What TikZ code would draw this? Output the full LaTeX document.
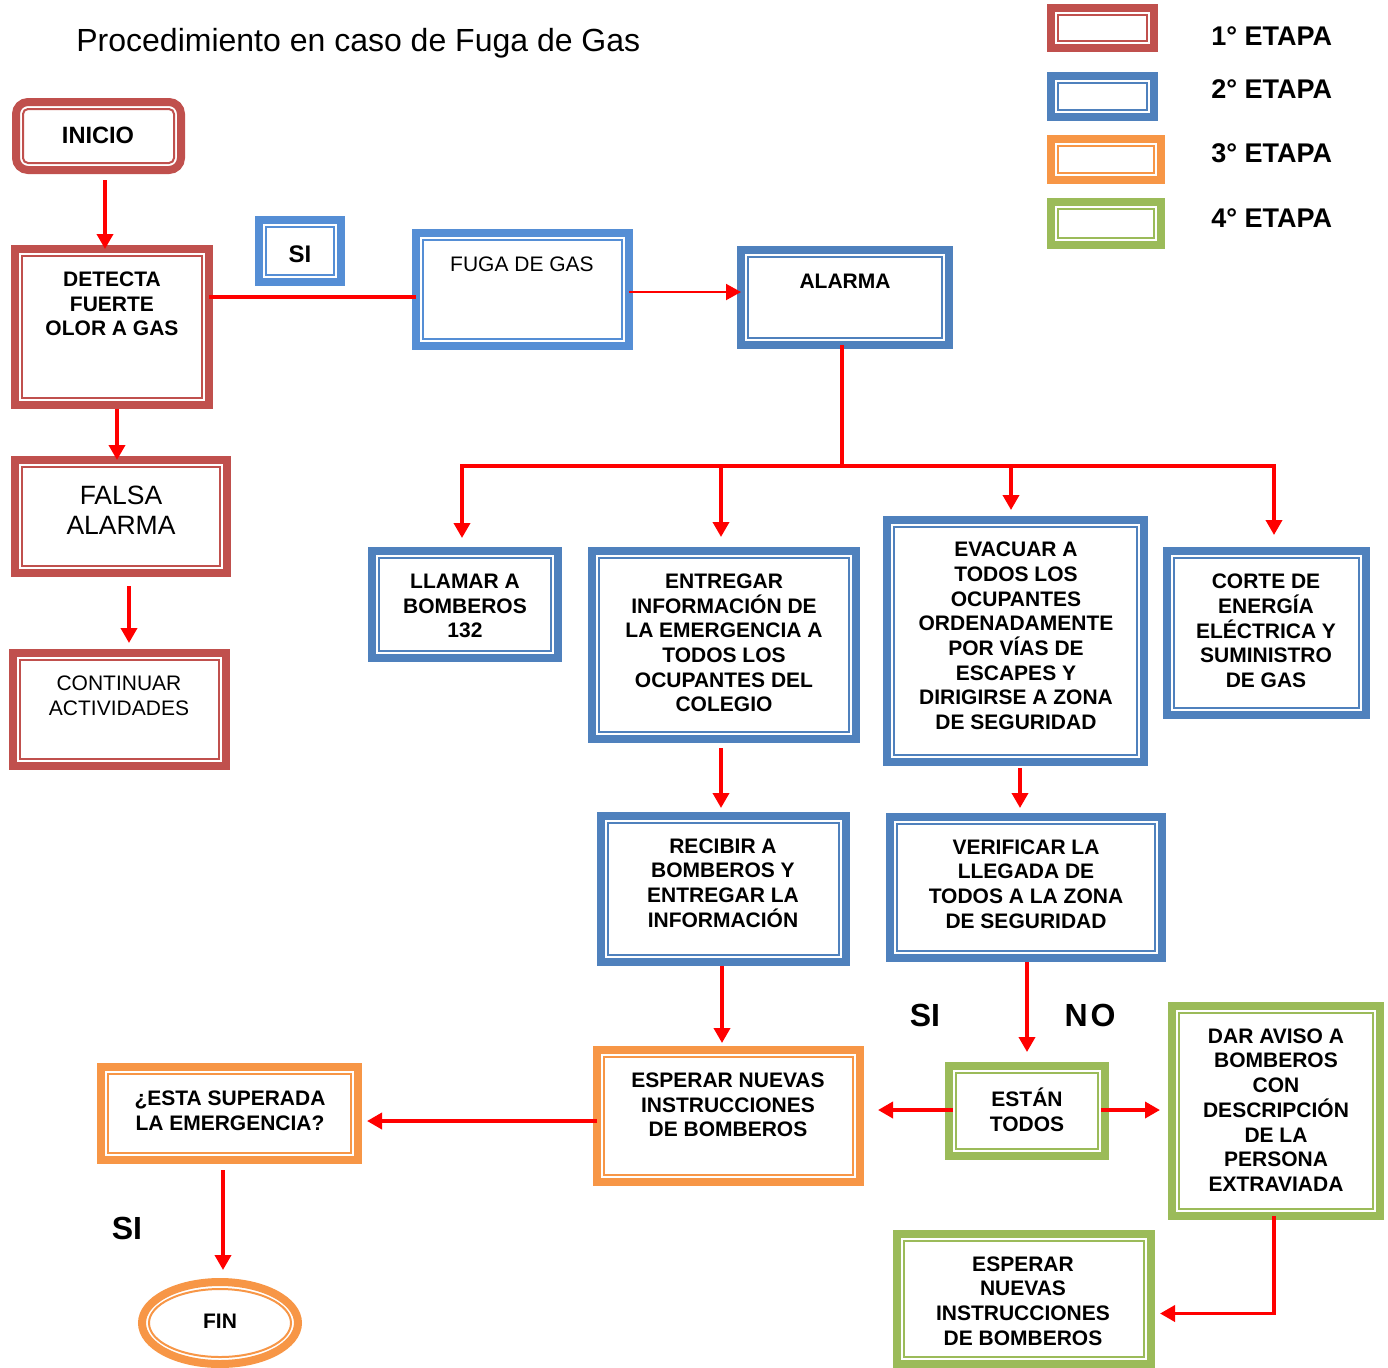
\documentclass[tikz,border=0pt]{standalone}
\usepackage{fontspec}
\setmainfont{Liberation Sans}
\usetikzlibrary{arrows.meta,shapes.geometric}

\definecolor{stred}{HTML}{C0504D}
\definecolor{stblue}{HTML}{4F81BD}
\definecolor{stbluelight}{HTML}{558ED5}
\definecolor{storange}{HTML}{F79646}
\definecolor{stgreen}{HTML}{9BBB59}
\definecolor{arrowred}{HTML}{FF0000}

\tikzset{
  stage/.style={draw=#1, line width=4pt, fill=white, inner sep=0pt, outer sep=0pt,
    path picture={\draw[#1, line width=1pt]
      ([shift={(3.5pt,-3.5pt)}]path picture bounding box.north west) rectangle
      ([shift={(-3.5pt,3.5pt)}]path picture bounding box.south east);}},
  stageround/.style={draw=#1, line width=4pt, fill=white, inner sep=0pt, outer sep=0pt,
    rounded corners=6pt,
    path picture={\draw[#1, line width=1pt, rounded corners=2.5pt]
      ([shift={(3.5pt,-3.5pt)}]path picture bounding box.north west) rectangle
      ([shift={(-3.5pt,3.5pt)}]path picture bounding box.south east);}},
  txt/.style={align=center, inner sep=0pt, font=\fontsize{10.5pt}{12.35pt}\selectfont\bfseries},
  plaintxt/.style={align=center, inner sep=0pt, font=\fontsize{10.5pt}{12.5pt}\selectfont},
  bigtxt/.style={inner sep=0pt, font=\fontsize{16pt}{16pt}\selectfont\bfseries},
  legtxt/.style={anchor=west, inner sep=0pt, font=\fontsize{13.5pt}{14pt}\selectfont\bfseries},
  arr/.style={draw=arrowred, line width=1.8pt, -{Triangle[length=7.5pt,width=8pt]}},
  link/.style={draw=arrowred, line width=1.8pt},
}

% box from corner (x1,y1) to corner (x2,y2), outer edges of the frame
\newcommand\boxat[7][stage]{%
  \node[#1=#3, minimum width={(#6-#4-8)*0.5pt}, minimum height={(#7-#5-8)*0.5pt}]
    (#2) at ({(#4+#6)/2},{(#5+#7)/2}) {};}

\begin{document}
\begin{tikzpicture}[x=0.5pt, y=-0.5pt]
\useasboundingbox (0,0) rectangle (1388,1367);

% title
\node[anchor=base west, inner sep=0pt, font=\fontsize{16pt}{19pt}\selectfont] (title)
  at (76,51) {Procedimiento en caso de Fuga de Gas};

% legend
\boxat{leg1}{stred}{1047}{4}{1158}{52}
\boxat{leg2}{stblue}{1047}{72}{1158}{121}
\boxat{leg3}{storange}{1047}{135}{1165}{184}
\boxat{leg4}{stgreen}{1047}{198}{1165}{249}
\node[legtxt] (leg1t) at (1211,36) {1° ETAPA};
\node[legtxt] (leg2t) at (1211,89) {2° ETAPA};
\node[legtxt] (leg3t) at (1211,153) {3° ETAPA};
\node[legtxt] (leg4t) at (1211,218) {4° ETAPA};

% stage 1
\boxat[stageround]{inicio}{stred}{12}{98}{185}{174}
\boxat{detecta}{stred}{11}{245}{213}{409}
\boxat{falsa}{stred}{11}{456}{231}{577}
\boxat{continuar}{stred}{9}{649}{230}{770}
\node[txt, font=\fontsize{11.8pt}{13pt}\selectfont\bfseries] (inicio-t) at (98,135) {INICIO};
\node[txt] (detecta-t) at (112,304) {DETECTA\\FUERTE\\OLOR A GAS};
\node[plaintxt, font=\fontsize{13.25pt}{15pt}\selectfont] (falsa-t) at (121,510) {FALSA\\ALARMA};
\node[plaintxt] (continuar-t) at (119,696) {CONTINUAR\\ACTIVIDADES};

% stage 2
\boxat{sibox}{stbluelight}{255}{216}{345}{286}
\boxat{fuga}{stbluelight}{412}{229}{633}{350}
\boxat{alarma}{stblue}{737}{246}{953}{349}
\boxat{llamar}{stblue}{368}{547}{562}{662}
\boxat{entregar}{stblue}{588}{547}{860}{743}
\boxat{evacuar}{stblue}{883}{516}{1148}{766}
\boxat{corte}{stblue}{1163}{547}{1370}{719}
\boxat{recibir}{stblue}{597}{812}{850}{966}
\boxat{verificar}{stblue}{886}{813}{1166}{962}
\node[txt, font=\fontsize{12pt}{13pt}\selectfont\bfseries] (sibox-t) at (300,254) {SI};
\node[plaintxt] (fuga-t) at (522,264) {FUGA DE GAS};
\node[txt] (alarma-t) at (845,281) {ALARMA};
\node[txt] (llamar-t) at (465,606) {LLAMAR A\\BOMBEROS\\132};
\node[txt] (entregar-t) at (724,643) {ENTREGAR\\INFORMACIÓN DE\\LA EMERGENCIA A\\TODOS LOS\\OCUPANTES DEL\\COLEGIO};
\node[txt] (evacuar-t) at (1016,636) {EVACUAR A\\TODOS LOS\\OCUPANTES\\ORDENADAMENTE\\POR VÍAS DE\\ESCAPES Y\\DIRIGIRSE A ZONA\\DE SEGURIDAD};
\node[txt] (corte-t) at (1266,631) {CORTE DE\\ENERGÍA\\ELÉCTRICA Y\\SUMINISTRO\\DE GAS};
\node[txt] (recibir-t) at (723,883) {RECIBIR A\\BOMBEROS Y\\ENTREGAR LA\\INFORMACIÓN};
\node[txt] (verificar-t) at (1026,884) {VERIFICAR LA\\LLEGADA DE\\TODOS A LA ZONA\\DE SEGURIDAD};

% stage 3
\boxat{esperar}{storange}{593}{1046}{864}{1186}
\boxat{superada}{storange}{97}{1063}{362}{1164}
\node[ellipse, draw=storange, line width=4pt, fill=white, inner sep=0pt,
  minimum width=78pt, minimum height=41pt] (fin) at (220,1323) {};
\draw[storange, line width=1pt] (fin.center) ellipse [x radius=35.5pt, y radius=17pt];
\node[txt] (esperar-t) at (728,1105) {ESPERAR NUEVAS\\INSTRUCCIONES\\DE BOMBEROS};
\node[txt] (superada-t) at (230,1111) {¿ESTA SUPERADA\\LA EMERGENCIA?};
\node[txt] (fin-t) at (220,1321) {FIN};

% stage 4
\boxat{estan}{stgreen}{945}{1062}{1109}{1160}
\boxat{aviso}{stgreen}{1168}{1002}{1384}{1220}
\boxat{esperarv}{stgreen}{893}{1230}{1155}{1368}
\node[txt] (estan-t) at (1027,1110) {ESTÁN\\TODOS};
\node[txt] (aviso-t) at (1276,1110) {DAR AVISO A\\BOMBEROS\\CON\\DESCRIPCIÓN\\DE LA\\PERSONA\\EXTRAVIADA};
\node[txt] (esperarv-t) at (1023,1301) {ESPERAR\\NUEVAS\\INSTRUCCIONES\\DE BOMBEROS};

% answer labels
\node[bigtxt] (si-a) at (925,1015) {SI};
\node[bigtxt] (no-a) at (1090,1015) {N\kern1.5pt O};
\node[bigtxt] (si-b) at (127,1228) {SI};

% connectors
\draw[arr] ([xshift=3.25pt,yshift=-5pt]inicio.south) -- ([xshift=-3.5pt]detecta.north);
\draw[arr] ([xshift=2.5pt,yshift=-2pt]detecta.south) -- ([xshift=-2pt]falsa.north);
\draw[arr, shorten >=5pt] ([xshift=4pt,yshift=-6.5pt]falsa.south) -- ([xshift=4.75pt]continuar.north);
\draw[link] ([yshift=15pt]detecta.east) -- ([yshift=-3.75pt]fuga.west);
\draw[arr, line width=1pt] ([yshift=-1.25pt]fuga.east) -- ([yshift=2.75pt]alarma.west);

\coordinate (bus) at (842,466);
\coordinate (b1) at (462,466);
\coordinate (b2) at (721,466);
\coordinate (b3) at (1011,466);
\coordinate (b4) at (1274,466);
\draw[link] ([xshift=-1.5pt]alarma.south) -- (bus);
\draw[link, line cap=rect] (b1) -- (b4);
\draw[arr, shorten >=6.5pt] (b1) -- ([xshift=-1.5pt]llamar.north);
\draw[arr, shorten >=7pt] (b2) -- ([xshift=-1.5pt]entregar.north);
\draw[arr, shorten >=5pt] (b3) -- ([xshift=-2.25pt]evacuar.north);
\draw[arr, shorten >=8pt] (b4) -- ([xshift=3.75pt]corte.north);

\draw[arr, shorten <=4.5pt, shorten >=4pt] ([xshift=-1.5pt]entregar.south) -- ([xshift=-1.25pt]recibir.north);
\draw[arr, shorten <=3pt, shorten >=4.5pt] ([xshift=2.25pt]evacuar.south) -- ([xshift=-3pt]verificar.north);
\draw[arr, shorten <=2pt, shorten >=3.5pt] ([xshift=-0.75pt]recibir.south) -- ([xshift=-3.25pt]esperar.north);
\draw[arr, shorten <=2pt, shorten >=7pt] ([xshift=0.5pt]verificar.south) -- (estan.north);

\draw[arr, shorten <=-2pt, shorten >=9pt] ([yshift=0.5pt]estan.west) -- ([yshift=3pt]esperar.east);
\draw[arr, shorten <=-2pt, shorten >=6pt] ([yshift=0.5pt]estan.east) -- ([yshift=0.5pt]aviso.west);
\draw[arr, shorten >=4.5pt] ([xshift=-1pt]aviso.south) |- ([yshift=-7.25pt]esperarv.east);
\draw[arr, shorten >=4.5pt] ([yshift=-2.5pt]esperar.west) -- ([yshift=-3.75pt]superada.east);
\draw[arr, shorten <=5pt, shorten >=4pt] ([xshift=-3.25pt]superada.south) -- ([xshift=1.5pt]fin.north);
\end{tikzpicture}
\end{document}
